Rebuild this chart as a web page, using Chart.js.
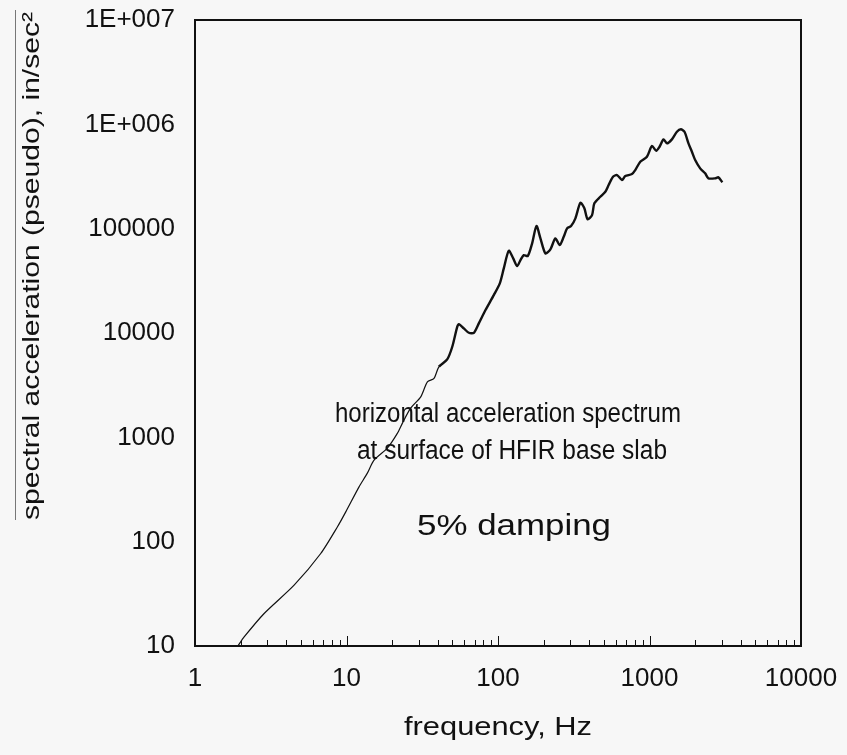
<!DOCTYPE html>
<html lang="en">
<head>
  <meta charset="UTF-8" />
  <title>Horizontal acceleration spectrum</title>
  <script src="https://cdn.jsdelivr.net/npm/chart.js"></script>
  <style>
    html, body { margin: 0; padding: 0; background: #f7f7f7; }
    #wrap { width: 847px; height: 755px; }
  </style>
</head>
<body>
  <div id="wrap"><canvas id="spectrumChart" width="847" height="755"></canvas></div>

  <script>
    // frequency (Hz) and pseudo spectral acceleration (in/sec^2)
    const freq = [
      1.92, 2.11, 2.86, 4.51, 6.76, 8.72, 9.89, 12.1, 13.7, 15.2,
      18.6, 21.7, 23.4, 26.5, 30.9, 34.2, 37.8, 40.7, 46.2, 49.9,
      53.8, 55.2, 59.5, 64.2, 69.3, 74.7, 82.7, 93.8, 102.8, 109.2,
      117.8, 126, 133.8, 140.7, 147.9, 157.2, 168, 179.4, 190.6, 205.6,
      221.8, 239.3, 255.5, 271.5, 285.8, 303.6, 324.3, 349.8, 371.6, 390.6,
      417.6, 432.5, 473.6, 511, 537.5, 574.3, 610.3, 658.4, 692, 766,
      805.6, 869, 962, 1038, 1108, 1165, 1237, 1303, 1406, 1517,
      1611, 1702, 1808, 1905, 2002, 2160, 2330, 2449, 2712, 2851,
      3030
    ];
    const accel = [
      10, 12.2, 20.5, 38.3, 77, 139, 193, 335, 451, 604,
      787, 1096, 1368, 1905, 2445, 3404, 3670, 4742, 5580, 7380,
      11460, 12170, 11070, 10050, 10050, 12360, 16590, 23080, 29900, 41600,
      61400, 51900, 43800, 50000, 55800, 54600, 72300, 106000, 80700, 57900,
      63400, 80700, 69600, 83600, 100700, 106000, 125600, 177000, 156700, 122800,
      134900, 174900, 202300, 225900, 261800, 314600, 326300, 292400, 319300, 333800,
      364600, 437800, 489000, 619400, 558400, 609700, 718000, 657400, 718000, 849000,
      895700, 849000, 657400, 546000, 454700, 378500, 339000, 303500, 303500, 310400,
      278000
    ];

    const xTicks = [1, 10, 100, 1000, 10000];
    const xTickLabels = ['1', '10', '100', '1000', '10000'];
    const yTicks = [10, 100, 1000, 10000, 100000, 1000000, 10000000];
    const yTickLabels = ['10', '100', '1000', '10000', '100000', '1E+006', '1E+007'];

    const xTitle = 'frequency, Hz';
    const yTitle = 'spectral acceleration (pseudo), in/sec\u00B2';
    const noteLines = ['horizontal acceleration spectrum', 'at surface of HFIR base slab'];
    const noteDamping = '5% damping';

    const FONT = '"Liberation Sans", Arial, Helvetica, sans-serif';
    const INK = '#111';

    // draw text squeezed/stretched to a given width (the scan's lettering is not standard width)
    function fitText(ctx, text, cx, cy, width, size, angle) {
      ctx.save();
      ctx.font = size + 'px ' + FONT;
      ctx.textAlign = 'center';
      ctx.textBaseline = 'middle';
      const natural = ctx.measureText(text).width;
      ctx.translate(cx, cy);
      if (angle) ctx.rotate(angle);
      ctx.scale(width / natural, 1);
      ctx.fillText(text, 0, 0);
      ctx.restore();
    }

    const decorations = {
      id: 'decorations',
      afterDraw(chart) {
        const ctx = chart.ctx;
        const area = chart.chartArea;
        const xs = chart.scales.x;
        ctx.save();
        ctx.fillStyle = INK;
        ctx.strokeStyle = INK;

        // frame
        ctx.lineWidth = 2;
        ctx.strokeRect(area.left, area.top, area.right - area.left, area.bottom - area.top);

        // ticks pointing up from the bottom edge, a bit longer at each decade
        ctx.lineWidth = 1;
        for (let d = 1; d < 10000; d *= 10) {
          for (let m = 2; m <= 10; m++) {
            const px = Math.round(xs.getPixelForValue(d * m)) + 0.5;
            const len = m === 10 ? 10 : 6;
            ctx.beginPath();
            ctx.moveTo(px, area.bottom);
            ctx.lineTo(px, area.bottom - len);
            ctx.stroke();
          }
        }

        // axis titles
        fitText(ctx, xTitle, (area.left + area.right) / 2, 728, 188, 26, 0);
        fitText(ctx, yTitle, 32, 266, 508, 24, -Math.PI / 2);
        ctx.strokeStyle = '#777';
        ctx.beginPath();
        ctx.moveTo(15.5, 10);
        ctx.lineTo(15.5, 520);
        ctx.stroke();

        // annotation inside the plot
        fitText(ctx, noteLines[0], 508, 415, 346, 27, 0);
        fitText(ctx, noteLines[1], 512, 452, 310, 27, 0);
        fitText(ctx, noteDamping, 514, 527, 194, 30, 0);
        ctx.restore();
      }
    };

    const ctx = document.getElementById('spectrumChart').getContext('2d');
    const spectrumChart = new Chart(ctx, {
      type: 'line',
      data: {
        datasets: [{
          data: freq.map((f, i) => ({ x: f, y: accel[i] })),
          borderColor: INK,
          borderWidth: 2.4,
          pointRadius: 0,
          tension: 0.25,
          fill: false,
          segment: {
            borderWidth: c => (c.p0.parsed.x < 40 ? 1.2 : 2.4)
          }
        }]
      },
      options: {
        responsive: false,
        animation: false,
        layout: { padding: { top: 20, right: 46, left: 0, bottom: 0 } },
        plugins: {
          legend: { display: false },
          tooltip: { enabled: false }
        },
        scales: {
          x: {
            type: 'logarithmic',
            min: 1,
            max: 10000,
            grid: { display: false, drawTicks: false },
            border: { display: false },
            afterBuildTicks: s => { s.ticks = xTicks.map(v => ({ value: v })); },
            afterFit: s => { s.height = 109; s.paddingLeft = 0; s.paddingRight = 0; },
            ticks: {
              color: INK,
              padding: 17,
              maxRotation: 0,
              font: { family: FONT, size: 26 },
              callback: v => xTickLabels[xTicks.indexOf(v)]
            }
          },
          y: {
            type: 'logarithmic',
            min: 10,
            max: 10000000,
            grid: { display: false, drawTicks: false },
            border: { display: false },
            afterBuildTicks: s => { s.ticks = yTicks.map(v => ({ value: v })); },
            afterFit: s => { s.width = 195; s.paddingTop = 0; s.paddingBottom = 0; },
            ticks: {
              color: INK,
              padding: 20,
              font: { family: FONT, size: 26 },
              callback: v => yTickLabels[yTicks.indexOf(v)]
            }
          }
        }
      },
      plugins: [decorations]
    });
  </script>
</body>
</html>
